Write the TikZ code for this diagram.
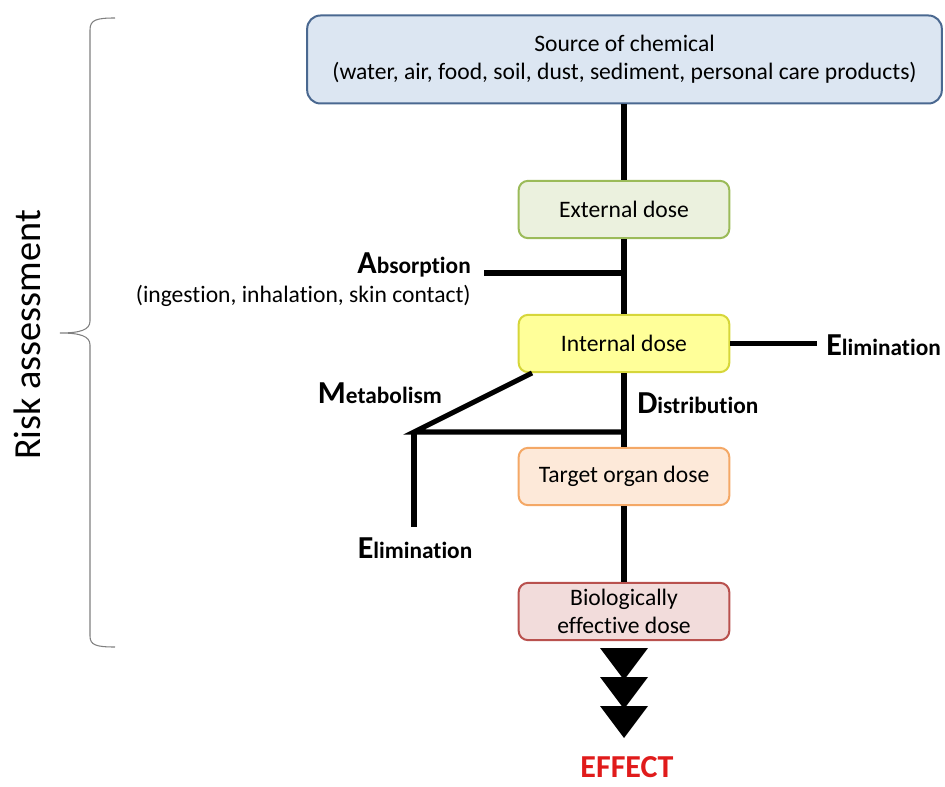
\documentclass[tikz,border=0pt]{standalone}
\usepackage{fontspec}
\setmainfont{Carlito}[Ligatures=NoCommon]
\usepackage{xcolor}
\usepackage{tikz}
\usetikzlibrary{positioning,calc}
\definecolor{srcfill}{HTML}{DCE6F2}
\definecolor{srcdraw}{HTML}{4A6890}
\definecolor{extfill}{HTML}{EBF1DE}
\definecolor{extdraw}{HTML}{9BBB59}
\definecolor{intfill}{HTML}{FFFF99}
\definecolor{intdraw}{HTML}{D6D63A}
\definecolor{tgtfill}{HTML}{FDE9D9}
\definecolor{tgtdraw}{HTML}{F4A866}
\definecolor{biofill}{HTML}{F2DCDB}
\definecolor{biodraw}{HTML}{B9514E}
\definecolor{effred}{HTML}{E01B1B}
\tikzstyle{flow}=[line width=3.8pt, black]
\newcommand{\bigfirst}[2]{\textbf{{\fontsize{24}{26}\selectfont #1}{\fontsize{17.5}{21}\selectfont #2}}}

\begin{document}
\begin{tikzpicture}[x=0.75pt,y=-0.75pt,
  dose/.style={rectangle,rounded corners=7pt,line width=1.5pt,minimum width=158pt,minimum height=43pt,
    align=center,font=\fontsize{17.7}{21}\selectfont,inner sep=1pt},
  lbl/.style={inner sep=0pt,align=right,font=\fontsize{17.7}{21}\selectfont}]
\useasboundingbox (0,0) rectangle (945,787);

% dose boxes
\node[dose,fill=srcfill,draw=srcdraw,rounded corners=10pt,minimum width=476pt,minimum height=66pt] (src) at (624.5,59.5)
  {Source of chemical\\(water, air, food, soil, dust, sediment, personal care products)};
\node[dose,fill=extfill,draw=extdraw] (ext) at (624,209.5) {External dose};
\node[dose,fill=intfill,draw=intdraw] (int) at (624,343.5) {Internal dose};
\node[dose,fill=tgtfill,draw=tgtdraw] (tgt) at (624,476.5) {Target organ dose};
\node[dose,fill=biofill,draw=biodraw] (bio) at (624,611.5) {Biologically\\effective dose};

% main trunk
\draw[flow] (src.south -| ext) -- (ext.north);
\draw[flow] (ext.south) -- (int.north);
\draw[flow] (int.south) -- (tgt.north);
\draw[flow] (tgt.south) -- (bio.north);

% absorption
\coordinate (ja) at (624,273);
\coordinate (aend) at (484,273);
\draw[flow] (aend) -- (ja);
\node[lbl,anchor=east] (abs) at (471,265) {\bigfirst{A}{bsorption}};
\node[lbl,anchor=east] (route) at (471,296) {(ingestion, inhalation, skin contact)};

% elimination from internal dose
\coordinate (eend) at (817,343.5);
\draw[flow] (int.east) -- (eend);
\node[lbl,anchor=west] (elim) at (826,345) {\bigfirst{E}{limination}};

% metabolism
\coordinate (mstart) at (532,373);
\coordinate (mj) at (414,432);
\coordinate (dj) at (624,432);
\coordinate (mend) at (414,527);
\draw[flow,line join=miter] (mstart) -- (mj) -- (dj);
\draw[flow] (mj) -- (mend);
\node[lbl,anchor=east] (met) at (442,393) {\bigfirst{M}{etabolism}};
\node[lbl,anchor=west] (dist) at (637,403) {\bigfirst{D}{istribution}};
\node[lbl] (elim2) at (415,548) {\bigfirst{E}{limination}};

% effect
\foreach \t in {648,677,706}
  \fill (600,\t) -- (648,\t) -- (624,\t+32) -- cycle;
\node[font=\bfseries\fontsize{24}{26}\selectfont,text=effred,anchor=base,inner sep=0pt] (eff) at (627,777) {EFFECT};

% risk assessment
\node[rotate=90,font=\fontsize{28.7}{32}\selectfont] (risk) at (27,335) {Risk assessment};
\draw[gray,line width=0.8pt] (115,18) .. controls (96,18) and (90,20) .. (90,30) -- (90,321)
  .. controls (90,330) and (80,333) .. (60,333) .. controls (80,333) and (90,336) .. (90,345)
  -- (90,636) .. controls (90,645) and (96,647) .. (115,647);
\end{tikzpicture}
\end{document}
